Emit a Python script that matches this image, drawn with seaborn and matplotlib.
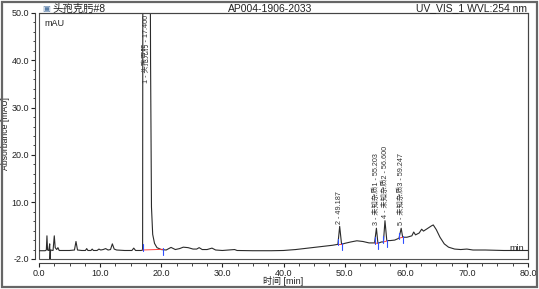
import numpy as np
import matplotlib
matplotlib.use("Agg")
import matplotlib.pyplot as plt
from matplotlib.patches import Rectangle
import seaborn as sns

# chromatogram trace (time in min, absorbance in mAU)
time_min = [0.0, 1.0, 1.2, 1.3, 1.4, 1.6, 1.75, 1.8, 1.9, 2.3, 2.5, 2.65, 2.9, 3.1, 3.3,
            5.0, 5.8, 6.05, 6.3, 7.0, 7.6, 7.8, 8.0, 8.5, 8.7, 8.9, 9.5, 9.8, 10.1, 10.5,
            10.9, 11.3, 11.7, 12.0, 12.3, 12.7, 14.0, 15.2, 15.5, 15.8, 16.7, 16.95, 17.05,
            17.4, 18.0, 18.25, 18.4, 18.6, 18.9, 19.3, 20.0, 20.8, 21.6, 22.3, 23.0, 23.6,
            24.4, 25.2, 25.8, 26.2, 26.7, 27.5, 28.3, 28.9, 30.0, 32.0, 32.4, 35.0, 38.0,
            40.0, 42.0, 44.0, 46.0, 48.0, 48.9, 49.19, 49.5, 50.0, 51.0, 52.0, 53.0, 54.0,
            54.9, 55.2, 55.45, 56.0, 56.35, 56.6, 56.9, 57.5, 58.2, 58.9, 59.25, 59.5, 60.2,
            61.0, 61.3, 61.6, 62.2, 62.6, 62.9, 63.5, 64.2, 64.5, 65.0, 65.6, 66.3, 67.0,
            68.0, 69.0, 70.0, 71.0, 73.0, 76.0, 80.0]
absorbance = [-0.25, -0.25, -0.1, 2.9, -0.1, -0.2, 1.2, -2.3, -0.1, -0.2, 2.9, 0.4, 0.0, 0.4, -0.2,
              -0.2, -0.1, 1.7, -0.1, -0.2, -0.2, 0.2, -0.2, -0.2, 0.1, -0.2, -0.2, 0.1, -0.1, 0.0,
              0.2, -0.1, 0.0, 1.2, 0.1, -0.1, -0.2, -0.2, 0.3, -0.2, -0.2, -0.1, 150.0,
              300.0, 150.0, 40.0, 9.0, 3.2, 1.3, 0.4, 0.0, -0.1, 0.45, 0.0, 0.2, 0.5,
              0.4, 0.1, 0.1, 0.4, 0.0, 0.0, 0.3, -0.1, -0.2, 0.0, -0.2, -0.25, -0.25,
              -0.2, 0.0, 0.3, 0.6, 0.9, 1.1, 4.9, 1.1, 1.3, 1.6, 1.85, 1.7, 1.4,
              1.4, 4.5, 1.3, 1.6, 1.6, 6.1, 1.9, 1.9, 2.0, 2.4, 4.5, 2.6, 2.6,
              2.9, 3.7, 3.1, 3.5, 4.3, 3.9, 4.4, 5.0, 5.2, 4.2, 2.6, 1.2, 0.5,
              0.1, 0.0, 0.1, -0.1, -0.1, -0.2, -0.2]

# integrated peaks
peak_times = [17.400, 49.187, 55.203, 56.600, 59.247]
peak_labels = ["1 - 头孢克肟 - 17.400", "2 - 49.187", "3 - 未知杂质1 - 55.203",
               "4 - 未知杂质2 - 56.600", "5 - 未知杂质3 - 59.247"]
peak_tops = [50.0, 4.9, 4.5, 6.1, 4.5]
peak_start = [16.95, 48.9, 54.9, 56.35, 58.9]
peak_end = [20.3, 49.5, 55.45, 56.9, 59.5]
start_level = [-0.1, 1.1, 1.4, 1.6, 2.4]
end_level = [0.05, 1.1, 1.3, 1.8, 2.6]

x_ticks = [0, 10, 20, 30, 40, 50, 60, 70, 80]
y_ticks = [-2, 10, 20, 30, 40, 50]

sns.set_style("ticks")
plt.rcParams["font.family"] = ["Liberation Sans", "Noto Sans CJK SC"]

fig = plt.figure(figsize=(5.39, 2.89), dpi=100)
ax = fig.add_axes([39 / 539, 1 - 259 / 289, 489 / 539, 246 / 289])

sns.lineplot(x=time_min, y=absorbance, ax=ax, color="#2b2b2b", linewidth=0.8,
             sort=False, estimator=None)

# integration baselines and delimiters
for s, e, sl, el in zip(peak_start, peak_end, start_level, end_level):
    ax.plot([s, e], [sl, el], color="#ff4040", linewidth=0.7)
    ax.plot([s, s], [sl - 0.2, sl + 1.2], color="#3050ff", linewidth=0.8)
    ax.plot([e, e], [el - 1.2, el + 0.2], color="#3050ff", linewidth=0.8)

# peak labels
for t, lab, top in zip(peak_times, peak_labels, peak_tops):
    if top >= 50:
        ax.text(t + 0.05, 49.6, lab, rotation=90, ha="center", va="top",
                fontsize=5.2, color="#333333")
    else:
        ax.text(t, top + 0.6, lab, rotation=90, ha="center", va="bottom",
                fontsize=5.2, color="#333333")

ax.set_xlim(0, 80)
ax.set_ylim(-2, 50)
ax.set_xticks(x_ticks)
ax.set_xticklabels([f"{v:.1f}" for v in x_ticks])
ax.set_yticks(y_ticks)
ax.set_yticklabels([f"{v:.1f}" for v in y_ticks])
ax.set_xticks(np.arange(2.5, 80, 2.5), minor=True)
ax.set_yticks(np.arange(0, 50, 2), minor=True)
ax.tick_params(axis="both", which="major", labelsize=6.5, length=3, width=0.8,
               colors="#222222", pad=1)
ax.tick_params(axis="both", which="minor", length=1.8, width=0.6, colors="#222222")

ax.spines["left"].set_position(("outward", 3))
ax.spines["bottom"].set_position(("outward", 3))
for sp in ax.spines.values():
    sp.set_linewidth(0.8)
    sp.set_color("#444444")
ax.add_patch(Rectangle((0, 0), 1, 1, transform=ax.transAxes, fill=False,
                       edgecolor="#555555", linewidth=0.8, clip_on=False))

ax.set_xlabel("时间 [min]", fontsize=6.5, labelpad=-1, color="#222222")
ax.set_ylabel("Absorbance [mAU]", fontsize=6.2, color="#222222")
ax.yaxis.set_label_coords(-0.06, 0.51)
ax.text(0.012, 0.975, "mAU", transform=ax.transAxes, fontsize=6.5, va="top",
        color="#222222")
ax.text(0.992, 0.025, "min", transform=ax.transAxes, fontsize=6.5, ha="right",
        va="bottom", color="#222222")

# header row
fig.text(42 / 539, 1 - 8.5 / 289, "▣", fontsize=6, va="center", color="#5a7fa8",
         family=["DejaVu Sans"])
fig.text(52 / 539, 1 - 8.5 / 289, "头孢克肟#8", fontsize=7.5, va="center",
         color="#222222")
fig.text(270 / 539, 1 - 8.5 / 289, "AP004-1906-2033", fontsize=7.5, va="center",
         ha="center", color="#222222")
fig.text(527 / 539, 1 - 8.5 / 289, "UV_VIS_1 WVL:254 nm", fontsize=7.5, va="center",
         ha="right", color="#222222")

# outer frame
fig.patches.append(Rectangle((0.004, 0.006), 0.992, 0.988, transform=fig.transFigure,
                             fill=False, edgecolor="#666666", linewidth=1.6))

fig.savefig("out.png", dpi=100)
